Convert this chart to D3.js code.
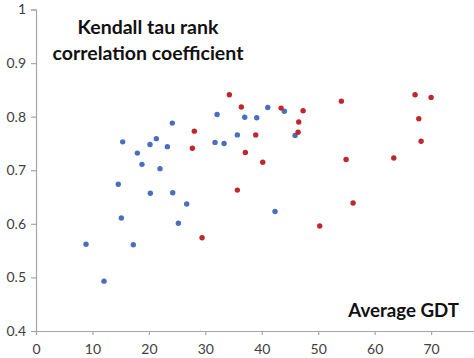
<!DOCTYPE html>
<html>
<head>
<meta charset="utf-8">
<script src="https://cdn.jsdelivr.net/npm/d3@7"></script>
<style>
  html, body { margin: 0; padding: 0; background: #fff; }
  svg { display: block; }
</style>
</head>
<body>
<svg id="chart" width="474" height="358"></svg>
<script>
// ---- data ----
const blueX = [24.15, 15.36, 21.32, 20.2, 23.27, 17.95, 18.78, 21.97, 14.58, 20.26, 24.22, 26.7, 15.12, 25.22, 8.86, 17.24, 12.05, 41.06, 44.0, 32.08, 36.98, 39.11, 35.67, 45.9, 31.72, 33.32, 42.35];
const blueY = [0.788, 0.753, 0.759, 0.748, 0.744, 0.732, 0.711, 0.703, 0.674, 0.657, 0.658, 0.637, 0.611, 0.601, 0.562, 0.561, 0.493, 0.817, 0.810, 0.804, 0.799, 0.798, 0.766, 0.765, 0.752, 0.750, 0.623];
const redX = [28.05, 27.7, 29.42, 34.26, 36.38, 43.42, 47.32, 46.55, 38.93, 46.43, 37.09, 40.17, 35.67, 50.27, 54.1, 67.16, 70.0, 67.82, 68.23, 54.94, 63.39, 56.18];
const redY = [0.773, 0.741, 0.574, 0.841, 0.818, 0.816, 0.811, 0.790, 0.766, 0.771, 0.733, 0.715, 0.663, 0.596, 0.829, 0.841, 0.836, 0.796, 0.754, 0.720, 0.723, 0.639];
const xTicks = [0, 10, 20, 30, 40, 50, 60, 70];
const yTicks = [0.4, 0.5, 0.6, 0.7, 0.8, 0.9, 1];
const titleLines = ["Kendall tau rank", "correlation coefficient"];
const xTitle = "Average GDT";

// ---- drawing ----
const svg = d3.select("#chart");
const x = d3.scaleLinear().domain([0, 77.6]).range([36, 474]);
const y = d3.scaleLinear().domain([0.4, 1]).range([331, 9.5]);
const axisColor = "#a6a6a6";
const labelFont = "Lato, 'Open Sans', sans-serif";

const yAxis = svg.append("g")
  .attr("transform", `translate(${x(0)},0)`)
  .call(d3.axisLeft(y).tickValues(yTicks).tickSize(5).tickPadding(5)
    .tickFormat(d => d === 1 ? "1" : d3.format(".1f")(d)));
const xAxis = svg.append("g")
  .attr("transform", `translate(0,${y(0.4)})`)
  .call(d3.axisBottom(x).tickValues(xTicks).tickSize(4).tickPadding(9.5));

[yAxis, xAxis].forEach(g => {
  g.select(".domain").attr("stroke", axisColor).attr("stroke-width", 1.2);
  g.selectAll(".tick line").attr("stroke", axisColor).attr("stroke-width", 1.2);
  g.selectAll(".tick text")
    .attr("fill", "#404040")
    .style("font-family", labelFont)
    .style("font-size", "14px");
});
xAxis.selectAll(".tick").filter(d => d === 0).select("line").remove();

const blue = blueX.map((v, i) => ({x: v, y: blueY[i]}));
const red = redX.map((v, i) => ({x: v, y: redY[i]}));

svg.append("g").selectAll("circle").data(blue).join("circle")
  .attr("cx", d => x(d.x)).attr("cy", d => y(d.y)).attr("r", 2.7)
  .attr("fill", "#4a6ebf");
svg.append("g").selectAll("circle").data(red).join("circle")
  .attr("cx", d => x(d.x)).attr("cy", d => y(d.y)).attr("r", 2.7)
  .attr("fill", "#c0272d");

svg.append("g").selectAll("text").data(titleLines).join("text")
  .attr("x", 148).attr("y", (d, i) => 33.5 + i * 26)
  .attr("text-anchor", "middle")
  .attr("fill", "#111")
  .style("font-family", labelFont)
  .style("font-weight", "bold")
  .style("font-size", "19.5px")
  .text(d => d);

svg.append("text")
  .attr("x", 459).attr("y", 317)
  .attr("text-anchor", "end")
  .attr("fill", "#111")
  .style("font-family", labelFont)
  .style("font-weight", "bold")
  .style("font-size", "18.7px")
  .text(xTitle);
</script>
</body>
</html>
